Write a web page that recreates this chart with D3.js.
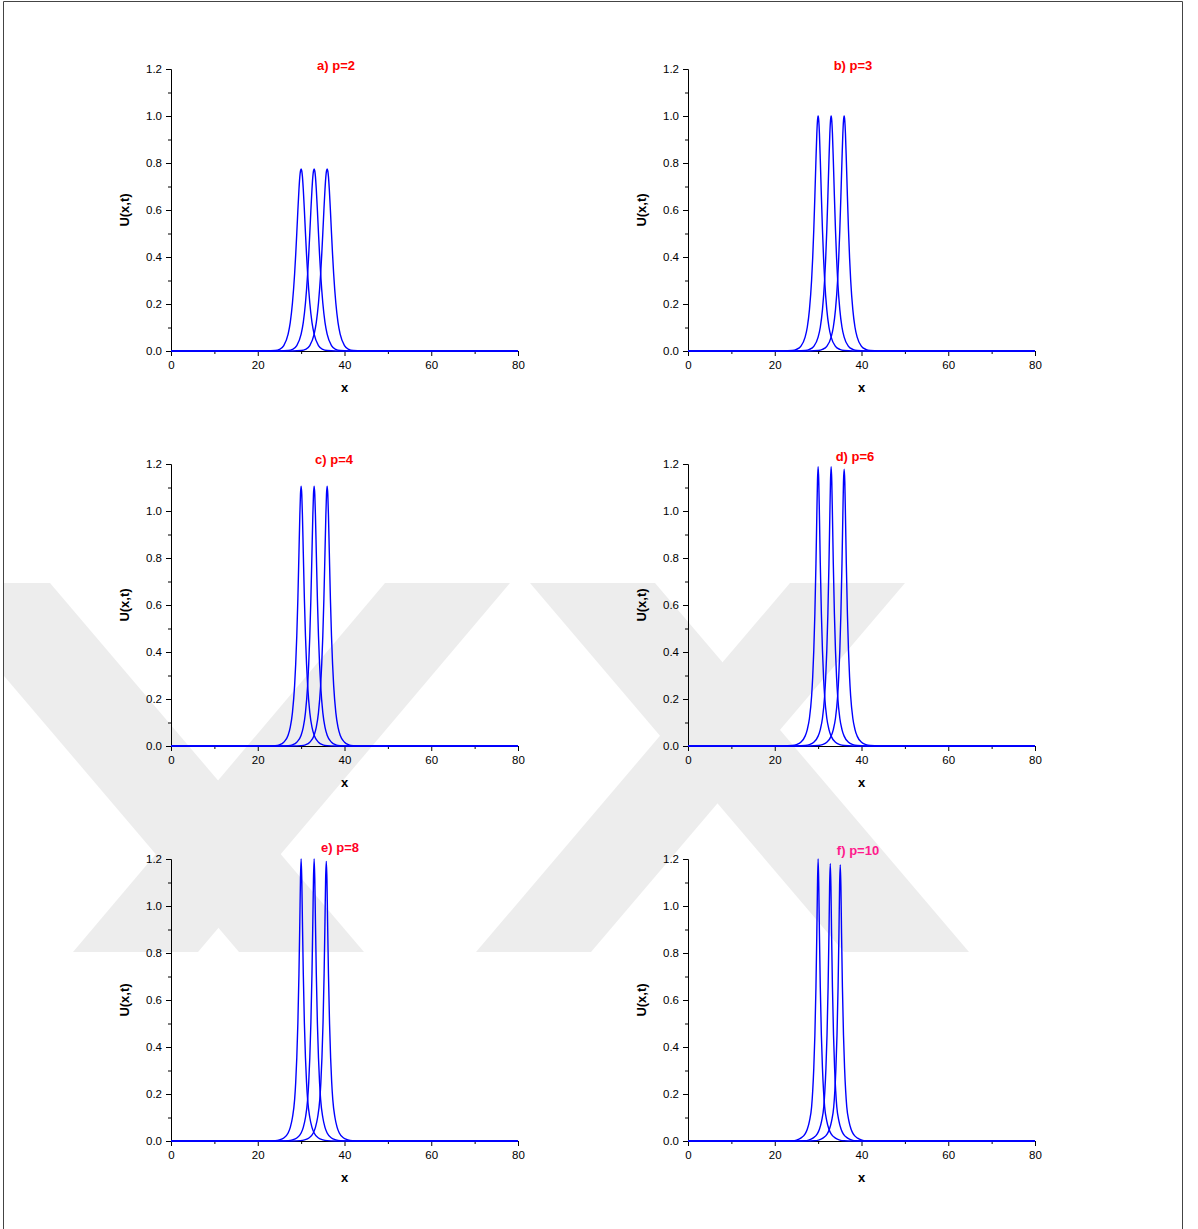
<!DOCTYPE html>
<html>
<head>
<meta charset="utf-8">
<script src="https://cdn.jsdelivr.net/npm/d3@7"></script>
<style>
  html, body { margin: 0; padding: 0; background: #fff; }
  svg { display: block; }
</style>
</head>
<body>
<svg id="fig" width="1198" height="1229"></svg>
<script>
// Axis ticks
const xTicks = [0, 20, 40, 60, 80];
const xMinorTicks = [10, 30, 50, 70];
const yTicks = [0, 0.2, 0.4, 0.6, 0.8, 1.0, 1.2];
const yMinorTicks = [0.1, 0.3, 0.5, 0.7, 0.9, 1.1];

// Panel titles and their colours
const panelTitles = ["a) p=2", "b) p=3", "c) p=4", "d) p=6", "e) p=8", "f) p=10"];
const titleColors = ["#ff0000", "#ff0000", "#ff0000", "#ff0000", "#ff0026", "#ff1a8c"];

// Wave crest positions (x) and crest heights for the three time levels of each panel
const peakCenters = [
  [30, 33, 36], [30, 33, 36], [30, 33, 36],
  [30, 33, 36], [30, 33, 35.8], [30, 32.8, 35.1]
];
const peakTops = [
  [0.775, 0.775, 0.775], [1.0, 1.0, 1.0], [1.106, 1.106, 1.106],
  [1.188, 1.188, 1.178], [1.2, 1.2, 1.19], [1.2, 1.18, 1.175]
];

// Distance from the crest at which the wave height is sampled (both sides)
const waveOffsets = [0.15, 0.3, 0.5, 0.75, 1, 1.25, 1.5, 2, 2.5, 3, 4, 5, 6, 8];

// Wave height at those distances, one profile per panel
const profileP2  = [0.766, 0.742, 0.687, 0.599, 0.502, 0.410, 0.329, 0.204, 0.122, 0.072, 0.023, 0.007, 0.002, 0.0];
const profileP3  = [0.980, 0.925, 0.814, 0.659, 0.516, 0.397, 0.303, 0.176, 0.101, 0.059, 0.020, 0.007, 0.002, 0.0];
const profileP4  = [1.071, 0.981, 0.822, 0.627, 0.469, 0.349, 0.258, 0.142, 0.080, 0.046, 0.016, 0.005, 0.0015, 0.0];
const profileP6  = [1.125, 0.982, 0.776, 0.564, 0.407, 0.294, 0.213, 0.118, 0.070, 0.042, 0.016, 0.006, 0.002, 0.0];
const profileP8  = [1.115, 0.935, 0.712, 0.502, 0.354, 0.249, 0.176, 0.100, 0.058, 0.034, 0.013, 0.005, 0.0015, 0.0];
const profileP10 = [1.086, 0.883, 0.655, 0.450, 0.310, 0.213, 0.146, 0.085, 0.050, 0.030, 0.012, 0.004, 0.0012, 0.0];
const profiles = [profileP2, profileP3, profileP4, profileP6, profileP8, profileP10];

// Page layout
const W = 1198, H = 1229;
const colLeft = [171, 688];
const rowTop = [69, 464, 859];
const plotW = 347, plotH = 282;
const titleX = [336, 853, 334, 855, 340, 858];
const titleY = [70, 70, 464, 461, 852, 855];

// Background emblem: diagonal bars given by [top-left x, top-right x, bottom-left x, bottom-right x]
const emblemTopY = 583, emblemBottomY = 952;
const emblemBars = [
  [-75, 50, 239, 364],
  [385, 510, 73, 198],
  [530, 655, 844, 969],
  [790, 905, 476, 591]
];

const svg = d3.select("#fig");
svg.append("rect").attr("width", W).attr("height", H).attr("fill", "#fff");

svg.append("g").selectAll("path").data(emblemBars).join("path")
  .attr("d", b => `M${b[0]},${emblemTopY}L${b[1]},${emblemTopY}L${b[3]},${emblemBottomY}L${b[2]},${emblemBottomY}Z`)
  .attr("fill", "#ededed");

// page frame
svg.append("rect").attr("x", 0).attr("y", 0).attr("width", 3).attr("height", H).attr("fill", "#fff");
svg.append("path")
  .attr("d", `M3.5,${H + 2}V1.5H1182.5V${H + 2}`)
  .attr("fill", "none").attr("stroke", "#444").attr("stroke-width", 1);

function wavePoints(center, top, profile) {
  const pts = [[0, 0]];
  for (let k = waveOffsets.length - 1; k >= 0; k--) pts.push([center - waveOffsets[k], profile[k]]);
  pts.push([center, top]);
  for (let k = 0; k < waveOffsets.length; k++) pts.push([center + waveOffsets[k], profile[k]]);
  pts.push([80, 0]);
  return pts;
}

panelTitles.forEach((title, i) => {
  const left = colLeft[i % 2];
  const top = rowTop[Math.floor(i / 2)];
  const x = d3.scaleLinear().domain([0, 80]).range([left, left + plotW]);
  const y = d3.scaleLinear().domain([0, 1.2]).range([top + plotH, top]);
  const g = svg.append("g");

  // axes
  g.append("g").attr("transform", `translate(${left},0)`)
    .call(d3.axisLeft(y).tickValues(yTicks).tickSize(5).tickPadding(4).tickFormat(d3.format(".1f")));
  g.append("g").attr("transform", `translate(${left},0)`)
    .call(d3.axisLeft(y).tickValues(yMinorTicks).tickSize(3).tickFormat(""))
    .select(".domain").remove();
  g.append("g").attr("transform", `translate(0,${top + plotH})`)
    .call(d3.axisBottom(x).tickValues(xTicks).tickSize(5).tickPadding(5).tickFormat(d3.format("d")));
  g.append("g").attr("transform", `translate(0,${top + plotH})`)
    .call(d3.axisBottom(x).tickValues(xMinorTicks).tickSize(3).tickFormat(""))
    .select(".domain").remove();
  g.selectAll(".domain").attr("stroke", "#000");
  g.selectAll(".tick line").attr("stroke", "#000");
  g.selectAll(".tick text")
    .attr("font-family", "Arial, 'Liberation Sans', sans-serif")
    .attr("font-size", 11.5).attr("fill", "#000");

  // axis titles
  g.append("text")
    .attr("x", x(40)).attr("y", top + plotH + 41)
    .attr("text-anchor", "middle")
    .attr("font-family", "Arial, 'Liberation Sans', sans-serif")
    .attr("font-size", 13).attr("font-weight", "bold")
    .text("x");
  g.append("text")
    .attr("transform", `translate(${left - 42},${y(0.6)}) rotate(-90)`)
    .attr("text-anchor", "middle")
    .attr("font-family", "Arial, 'Liberation Sans', sans-serif")
    .attr("font-size", 13).attr("font-weight", "bold")
    .text("U(x,t)");

  // waves
  const line = d3.line().x(d => x(d[0])).y(d => y(d[1])).curve(d3.curveMonotoneX);
  peakCenters[i].forEach((c, j) => {
    g.append("path")
      .attr("d", line(wavePoints(c, peakTops[i][j], profiles[i])))
      .attr("fill", "none").attr("stroke", "#0000ff").attr("stroke-width", 1.4);
  });

  // panel title
  svg.append("text")
    .attr("x", titleX[i]).attr("y", titleY[i])
    .attr("text-anchor", "middle")
    .attr("font-family", "Arial, 'Liberation Sans', sans-serif")
    .attr("font-size", 13).attr("font-weight", "bold")
    .attr("fill", titleColors[i])
    .text(title);
});
</script>
</body>
</html>
